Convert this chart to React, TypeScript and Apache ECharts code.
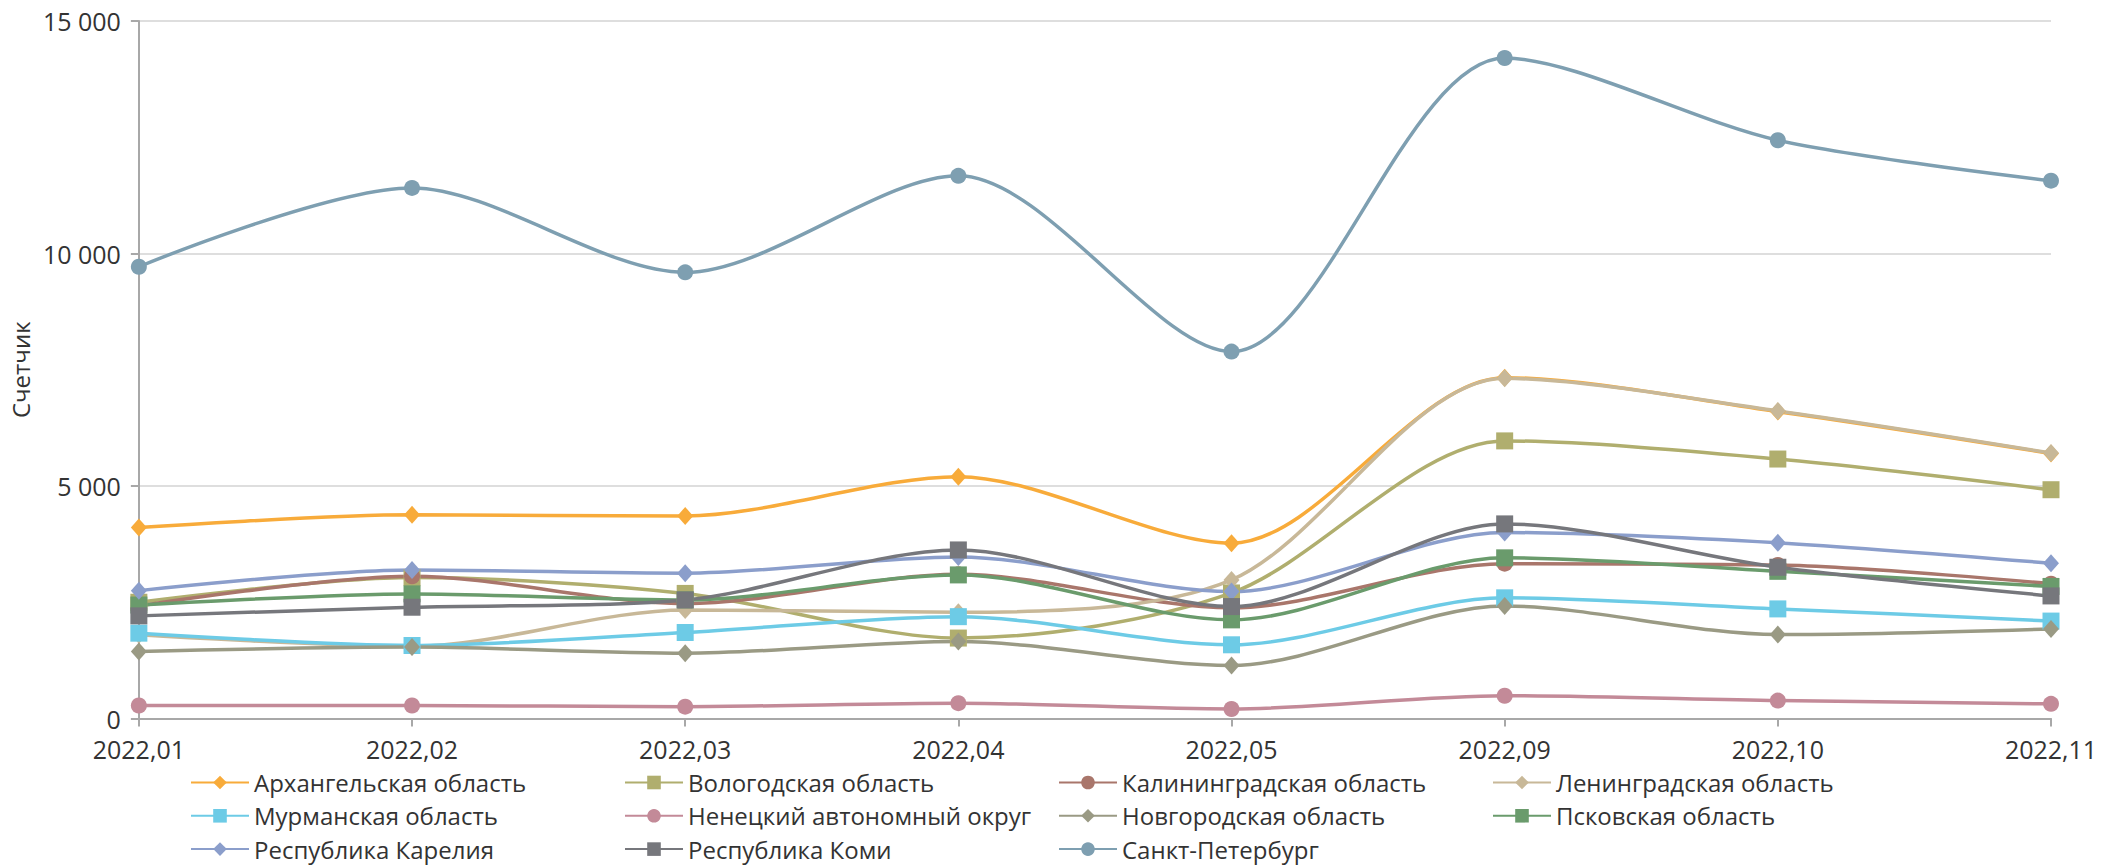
import React, { useEffect, useRef } from "react";
import * as echarts from "echarts";

const months = ["2022,01", "2022,02", "2022,03", "2022,04", "2022,05", "2022,09", "2022,10", "2022,11"];

const arkhangelsk = [4105, 4380, 4355, 5200, 3770, 7330, 6600, 5700];
const vologda = [2500, 3030, 2690, 1730, 2700, 5970, 5580, 4920];
const kaliningrad = [2420, 3060, 2470, 3100, 2380, 3330, 3300, 2900];
const leningrad = [1800, 1550, 2335, 2285, 2980, 7315, 6615, 5710];
const murmansk = [1835, 1570, 1850, 2190, 1585, 2595, 2357, 2095];
const nenets = [280, 280, 255, 330, 205, 490, 385, 315];
const novgorod = [1440, 1535, 1405, 1655, 1140, 2421, 1805, 1927];
const pskov = [2440, 2680, 2550, 3088, 2121, 3455, 3165, 2840];
const karelia = [2750, 3195, 3124, 3475, 2729, 4000, 3777, 3339];
const komi = [2207, 2393, 2550, 3625, 2407, 4185, 3253, 2636];
const spb = [9715, 11410, 9595, 11670, 7890, 14205, 12435, 11566];

const yTicks = { min: 0, max: 15000, interval: 5000 };

const seriesDefs = [
  { name: "Архангельская область", data: arkhangelsk, color: "#F8AB3A", symbol: "diamond" },
  { name: "Вологодская область", data: vologda, color: "#B0AE6E", symbol: "rect" },
  { name: "Калининградская область", data: kaliningrad, color: "#A9766B", symbol: "circle" },
  { name: "Ленинградская область", data: leningrad, color: "#C8B898", symbol: "diamond" },
  { name: "Мурманская область", data: murmansk, color: "#6DCBE6", symbol: "rect" },
  { name: "Ненецкий автономный округ", data: nenets, color: "#C38A98", symbol: "circle" },
  { name: "Новгородская область", data: novgorod, color: "#9A9A84", symbol: "diamond" },
  { name: "Псковская область", data: pskov, color: "#6A9B6C", symbol: "rect" },
  { name: "Республика Карелия", data: karelia, color: "#8B9ECB", symbol: "diamond" },
  { name: "Республика Коми", data: komi, color: "#76777C", symbol: "rect" },
  { name: "Санкт-Петербург", data: spb, color: "#7E9FB1", symbol: "circle" },
];

const legendColumns = [
  ["Архангельская область", "Мурманская область", "Республика Карелия"],
  ["Вологодская область", "Ненецкий автономный округ", "Республика Коми"],
  ["Калининградская область", "Новгородская область", "Санкт-Петербург"],
  ["Ленинградская область", "Псковская область"],
];

const FONT = "'Open Sans', Roboto, sans-serif";
const TEXT = "#333333";

function symbolSizeFor(symbol: string) {
  if (symbol === "rect") return 17;
  if (symbol === "diamond") return [16, 18];
  return 16;
}

export default function App() {
  const ref = useRef<HTMLDivElement>(null);
  useEffect(() => {
    if (!ref.current) return;
    const chart = echarts.init(ref.current, undefined, { renderer: "svg" });
    const legendLefts = [190, 624, 1058, 1492];
    chart.setOption({
      animation: false,
      backgroundColor: "#ffffff",
      textStyle: { fontFamily: FONT },
      grid: { left: 136, right: 52, top: 21, bottom: 146.5, containLabel: false },
      xAxis: {
        type: "category",
        data: months,
        boundaryGap: false,
        axisLine: { lineStyle: { color: "#A8A8A8", width: 2 } },
        axisTick: { show: true, length: 8, alignWithLabel: true, lineStyle: { color: "#A8A8A8", width: 2 } },
        axisLabel: { color: TEXT, fontSize: 25, lineHeight: 25, fontFamily: FONT, margin: 18 },
        splitLine: { show: false },
      },
      yAxis: {
        type: "value",
        min: yTicks.min,
        max: yTicks.max,
        interval: yTicks.interval,
        name: "Счетчик",
        nameLocation: "middle",
        nameGap: 98,
        nameRotate: 90,
        nameTextStyle: { color: TEXT, fontSize: 24, fontFamily: FONT },
        axisLine: { show: true, lineStyle: { color: "#A8A8A8", width: 2 } },
        axisTick: { show: true, length: 8, lineStyle: { color: "#A8A8A8", width: 2 } },
        axisLabel: {
          color: TEXT,
          fontSize: 25,
          lineHeight: 24,
          fontFamily: FONT,
          margin: 18,
          formatter: (v: number) => String(v).replace(/\B(?=(\d{3})+(?!\d))/g, " "),
        },
        splitLine: { show: true, lineStyle: { color: "#DEDEDE", width: 2 } },
      },
      legend: legendColumns.map((col, i) => ({
        data: col,
        orient: "vertical",
        left: legendLefts[i],
        top: 769.5,
        height: 95,
        padding: 0,
        itemWidth: 58,
        itemHeight: 17,
        itemGap: 7.3,
        textStyle: { color: TEXT, fontSize: 24, fontFamily: FONT, lineHeight: 26 },
      })),
      series: seriesDefs.map((s) => ({
        name: s.name,
        type: "line",
        data: s.data,
        smooth: 0.3,
        symbol: s.symbol,
        symbolSize: symbolSizeFor(s.symbol),
        showSymbol: true,
        color: s.color,
        itemStyle: { color: s.color },
        lineStyle: { color: s.color, width: 3.5 },
      })),
    });
    return () => chart.dispose();
  }, []);
  return (
    <div
      ref={ref}
      style={{ position: "absolute", left: 0, top: 0, width: 2103, height: 865, background: "#fff" }}
    />
  );
}
